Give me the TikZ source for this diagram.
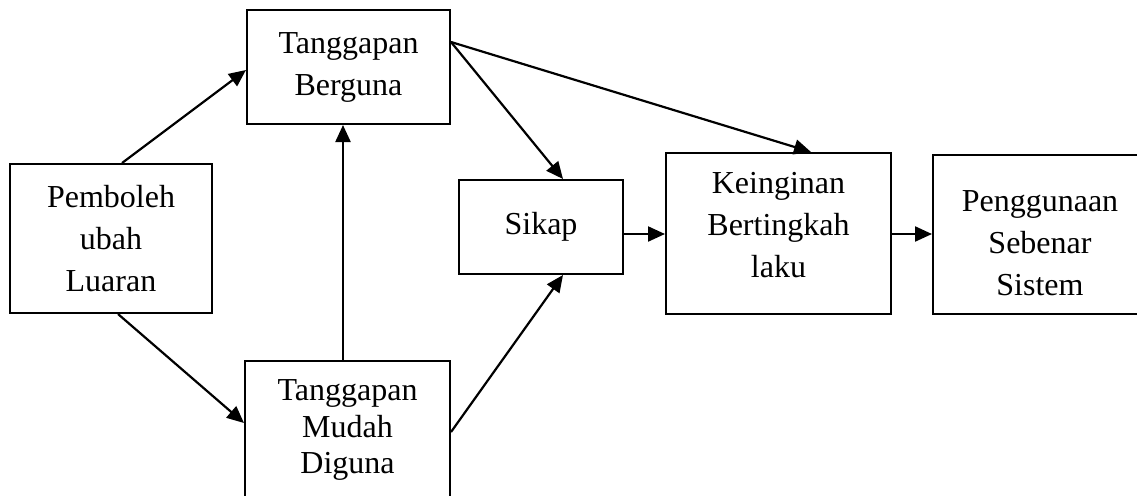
\documentclass[tikz,border=0pt]{standalone}
\usepackage{fontspec}
\setmainfont{Liberation Serif}
\usetikzlibrary{arrows.meta}
\begin{document}
\begin{tikzpicture}[x=1pt,y=-1pt,
  box/.style={draw,line width=2pt,inner sep=0pt,align=center,
    font=\fontsize{32}{42}\selectfont},
  arr/.style={line width=2.2pt,-{Triangle[length=17pt,width=15pt]}}]
\useasboundingbox (0,0) rectangle (1137,495);
\clip (0,0) rectangle (1137,495);
\node[box,minimum width=202pt,minimum height=149pt] (pem) at (111,238.5) {Pemboleh\\ubah\\Luaran};
\node[box,minimum width=203pt,minimum height=114pt] (tb) at (348.5,67) {Tanggapan\\Berguna};
\node[box,minimum width=205pt,minimum height=138pt,font=\fontsize{32}{36.5}\selectfont] (tmd) at (347.5,430) {Tanggapan\\Mudah\\Diguna};
\node[box,minimum width=164pt,minimum height=94pt] (sik) at (541,227) {Sikap};
\node[box,minimum width=225pt,minimum height=161pt] (kei) at (778.5,233.5) {Keinginan\\Bertingkah\\laku\rule[-18pt]{0pt}{0pt}};
\node[box,minimum width=214pt,minimum height=159pt] (pen) at (1040,234.5) {\rule{0pt}{38pt}Penggunaan\\Sebenar\\Sistem};
\draw[arr] ([xshift=11pt]pem.north) -- ([yshift=-3pt]tb.west);
\draw[arr] ([xshift=7pt]pem.south) -- ([yshift=7pt]tmd.west);
\draw[arr] ([xshift=-4.5pt]tmd.north) -- ([xshift=-5.5pt]tb.south);
\draw[arr] ([yshift=25pt]tb.east) -- ([xshift=22pt]sik.north);
\draw[arr] ([yshift=25pt]tb.east) -- ([xshift=32.5pt]kei.north);
\draw[arr] ([yshift=-2pt]tmd.east) -- ([xshift=22pt]sik.south);
\draw[arr] ([yshift=-7pt]sik.east) -- ([yshift=-7pt]sik.east -| kei.west);
\draw[arr] ([yshift=-0.5pt]kei.east) -- ([yshift=-0.5pt]kei.east -| pen.west);
\end{tikzpicture}
\end{document}
